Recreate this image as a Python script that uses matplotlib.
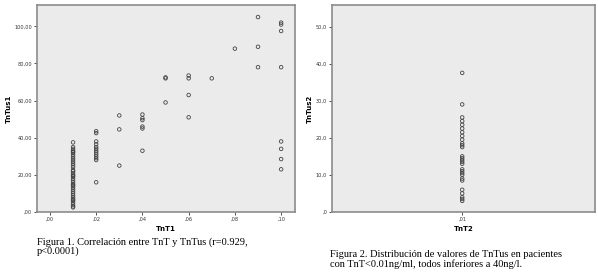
# =========== DATA =========================
TNT1_X = [0.01] * 39 + [0.02] * 13 + [0.03] * 3 + [0.04] * 6 + [0.05] * 3 + [0.06] * 4 \
    + [0.07] + [0.08] + [0.09] * 3 + [0.10] * 8
TNTUS1_Y = [37.5, 35, 34, 33, 32.5, 32, 31, 30, 29, 28, 27, 26, 25, 24,
            22.5, 22, 21, 20, 19.5, 19, 18, 17, 16, 15, 14.5, 14, 13, 12, 11, 10,
            9, 8, 7, 6.5, 6, 5, 4, 3, 2.5,
            43.5, 42.5, 38, 36.5, 35, 34, 33, 32, 31, 30, 29, 28, 16,
            52, 44.5, 25,
            52.5, 50.5, 49.5, 46, 45, 33,
            72.5, 72, 59,
            73.5, 72, 63, 51,
            72,
            88,
            105, 89, 78,
            102, 101, 97.5, 78, 38, 34, 28.5, 23]

TNTUS2_Y = [37.5, 29, 25.5, 24.5, 23.5, 22.5, 21.5, 20.5, 19.5, 18.5, 18, 17.5,
            15, 14.5, 14, 13.5, 13, 11.5, 11, 10.5, 10, 9, 8.5, 6, 5, 4, 3.5, 3]
TNT2_X = [0.01] * len(TNTUS2_Y)

X1_TICKS = [0.0, 0.02, 0.04, 0.06, 0.08, 0.10]
X1_LABELS = [',00', ',02', ',04', ',06', ',08', ',10']
Y1_TICKS = [0, 20, 40, 60, 80, 100]
Y1_LABELS = [',00', '20,00', '40,00', '60,00', '80,00', '100,00']
X2_TICKS = [0.01]
X2_LABELS = [',01']
Y2_TICKS = [0, 10, 20, 30, 40, 50]
Y2_LABELS = [',0', '10,0', '20,0', '30,0', '40,0', '50,0']

CAPTION1 = 'Figura 1. Correlación entre TnT y TnTus (r=0.929,\np<0.0001)'
CAPTION2 = 'Figura 2. Distribución de valores de TnTus en pacientes\ncon TnT<0.01ng/ml, todos inferiores a 40ng/l.'

#=========== CODE =================
import matplotlib
matplotlib.use('Agg')
import matplotlib.pyplot as plt

W, H = 598, 274
fig = plt.figure(figsize=(W / 100, H / 100), dpi=100)

def px_axes(x0, y0, x1, y1):
    return fig.add_axes([x0 / W, 1 - y1 / H, (x1 - x0) / W, (y1 - y0) / H])

def style(ax):
    ax.set_facecolor('#ebebeb')
    for s in ax.spines.values():
        s.set_color('#8c8c8c')
        s.set_linewidth(1.2)
    ax.tick_params(length=2, width=0.6, color='#333333', labelsize=3.6,
                   labelcolor='#333333', pad=1.5)

ax1 = px_axes(37, 5, 295, 212)
ax1.scatter(TNT1_X, TNTUS1_Y, s=6.5, facecolors='none', edgecolors='#444444', linewidths=0.6)
ax1.set_xlim(-0.0056, 0.106)
ax1.set_ylim(0, 111.5)
ax1.set_xticks(X1_TICKS, X1_LABELS)
ax1.set_yticks(Y1_TICKS, Y1_LABELS)
ax1.set_xlabel('TnT1', fontsize=5, fontweight='bold', labelpad=3)
ax1.set_ylabel('TnTus1', fontsize=5, fontweight='bold', labelpad=2)
style(ax1)

ax2 = px_axes(332, 5, 595, 212)
ax2.scatter(TNT2_X, TNTUS2_Y, s=6.5, facecolors='none', edgecolors='#444444', linewidths=0.6)
ax2.set_xlim(0.0, 0.0202)
ax2.set_ylim(0, 55.8)
ax2.set_xticks(X2_TICKS, X2_LABELS)
ax2.set_yticks(Y2_TICKS, Y2_LABELS)
ax2.set_xlabel('TnT2', fontsize=5, fontweight='bold', labelpad=3)
ax2.set_ylabel('TnTus2', fontsize=5, fontweight='bold', labelpad=2)
style(ax2)

fig.text(37 / W, 1 - 237 / H, CAPTION1, family='Liberation Serif', fontsize=7.5,
         va='top', ha='left', linespacing=1.0)
fig.text(330 / W, 1 - 250 / H, CAPTION2, family='Liberation Serif', fontsize=7.5,
         va='top', ha='left', linespacing=1.0)

fig.savefig('out.png', dpi=100)
